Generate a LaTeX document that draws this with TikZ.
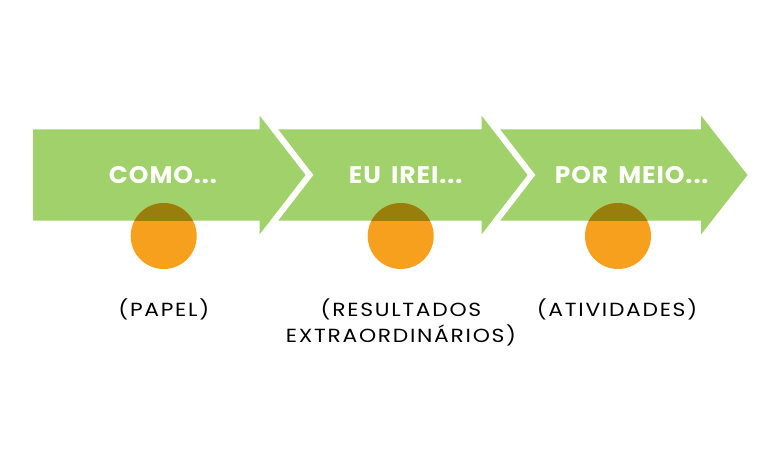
\documentclass[tikz,border=0pt]{standalone}
\usepackage{fontspec}
\setmainfont{Poppins}
\newfontfamily\labfont[FakeStretch=1.15,LetterSpace=9]{Poppins}
\newfontfamily\headfont[FakeStretch=1.04,LetterSpace=4,WordSpace=1.6]{Poppins}
\definecolor{arrowgreen}{HTML}{A1D16A}
\definecolor{dotorange}{HTML}{F6A01E}
\definecolor{dotdark}{HTML}{9A7E0B}
\begin{document}
\begin{tikzpicture}[x=1pt,y=-1pt,
  arrowshape/.style={fill=arrowgreen,draw=none},
  dot/.style={circle,fill=dotorange,minimum size=66pt,inner sep=0pt,draw=none},
  headtext/.style={text=white,font=\headfont\bfseries\fontsize{24}{24}\selectfont,inner sep=0pt},
  labtext/.style={text=black,font=\labfont\fontsize{19}{26}\selectfont,inner sep=0pt,align=center}]
\fill[white] (0,0) rectangle (783,448);
\useasboundingbox (0,0) rectangle (783,448);
% arrows
\fill[arrowshape] (33,129.3) -- (259.5,129.3) -- (259.5,115.5) -- (305.5,175) -- (259.5,234.5) -- (259.5,220.7) -- (33,220.7) -- cycle;
\fill[arrowshape] (278.2,129.3) -- (481.5,129.3) -- (481.5,115.5) -- (527.5,175) -- (481.5,234.5) -- (481.5,220.7) -- (278.2,220.7) -- (313.5,175) -- cycle;
\fill[arrowshape] (500.2,129.3) -- (701,129.3) -- (701,115.5) -- (747.5,175) -- (701,234.5) -- (701,220.7) -- (500.2,220.7) -- (535.5,175) -- cycle;
% dots
\node[dot] (c1) at (163.7,236) {};
\node[dot] (c2) at (400.7,236) {};
\node[dot] (c3) at (618,236) {};
\begin{scope}
  \clip (33,129.3) rectangle (747,220.7);
  \fill[dotdark] (c1) circle (33);
  \fill[dotdark] (c2) circle (33);
  \fill[dotdark] (c3) circle (33);
\end{scope}
% titles
\node[headtext] (t1) at (163,175) {COMO...};
\node[headtext] (t2) at (405.7,175) {EU IREI...};
\node[headtext] (t3) at (631.7,175) {POR MEIO...};
% labels
\node[labtext] (l1) at (163.8,309) {(PAPEL)};
\node[labtext] (l2) at (401,322) {(RESULTADOS\\EXTRAORDINÁRIOS)};
\node[labtext] (l3) at (617,309) {(ATIVIDADES)};
\end{tikzpicture}
\end{document}
